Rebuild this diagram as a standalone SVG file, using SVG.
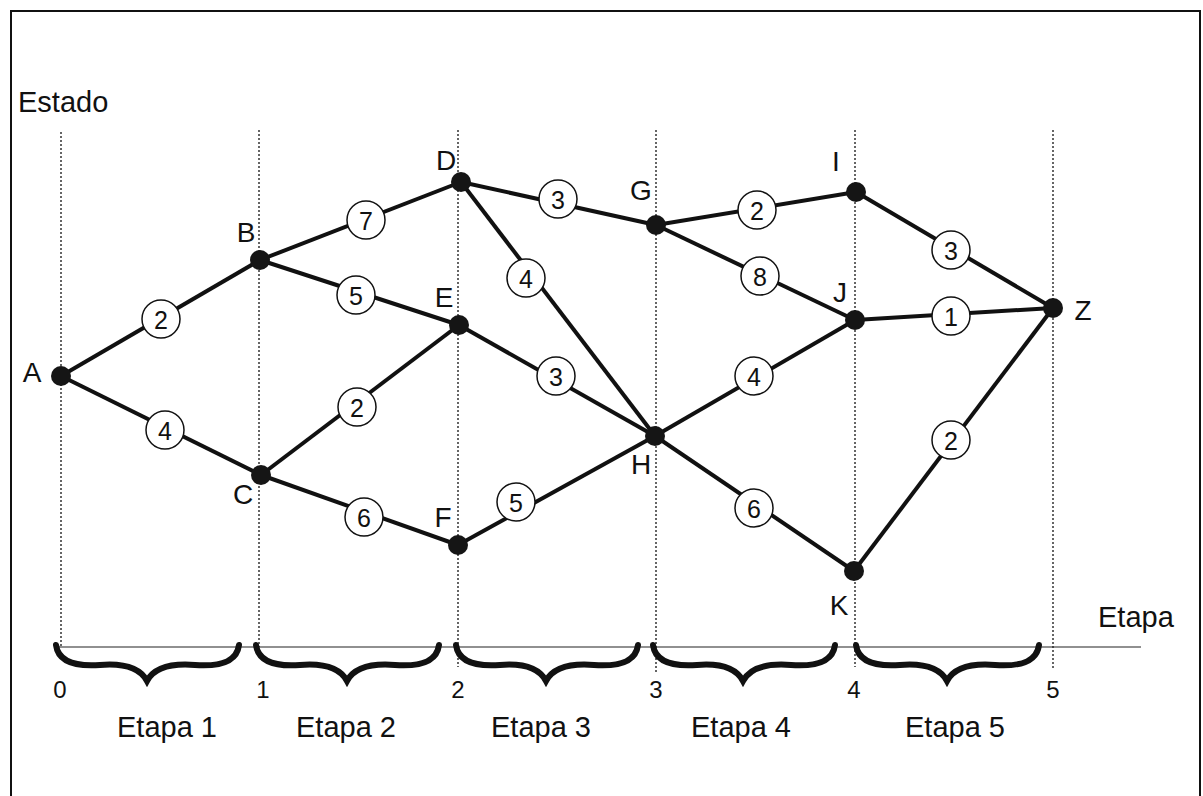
<svg xmlns="http://www.w3.org/2000/svg" width="1203" height="796" viewBox="0 0 1203 796">
<style>
text{font-family:"Liberation Sans",Arial,sans-serif;fill:#111}
.lbl{font-size:29px}
.nl{font-size:28px;text-anchor:middle}
.dg{font-size:24px;text-anchor:middle}
.w{font-size:25px;text-anchor:middle;dominant-baseline:central}
.edge{stroke:#111;stroke-width:4;fill:none}
.grid{stroke:#333;stroke-width:1.5;stroke-dasharray:2 2}
.node{fill:#151515}
.wc{fill:#fff;stroke:#111;stroke-width:1.5}
.brace{fill:none;stroke:#111;stroke-width:6;stroke-linecap:round}
</style>
<rect x="0" y="0" width="1203" height="796" fill="#fff"/>
<path d="M11,800 L11,11 L1200,11 L1200,800" fill="none" stroke="#111" stroke-width="2"/>
<g id="axes">
<line class="grid" x1="61" y1="132" x2="61" y2="647"/>
<line class="grid" x1="259" y1="130" x2="259" y2="647"/>
<line class="grid" x1="458" y1="130" x2="458" y2="667"/>
<line class="grid" x1="656" y1="130" x2="656" y2="672"/>
<line class="grid" x1="855" y1="130" x2="855" y2="667"/>
<line class="grid" x1="1053" y1="130" x2="1053" y2="670"/>
<line x1="55" y1="647" x2="1141" y2="647" stroke="#222" stroke-width="1.2"/>
<text class="lbl" x="18" y="112">Estado</text>
<text class="lbl" x="1098" y="627">Etapa</text>
<text class="dg" x="60" y="698">0</text>
<text class="dg" x="263" y="698">1</text>
<text class="dg" x="458" y="698">2</text>
<text class="dg" x="656" y="698">3</text>
<text class="dg" x="854" y="698">4</text>
<text class="dg" x="1053" y="698">5</text>
<path class="brace" d="M56,645 C58,660 72,667 100,665 C124,663 140,668 147,681 C154,668 170,663 195,665 C224,667 237,660 239,645"/>
<path class="brace" d="M256,645 C258,660 272,667 300,665 C324,663 340,668 347,681 C354,668 370,663 395,665 C424,667 437,660 439,645"/>
<path class="brace" d="M456,645 C458,660 472,667 500,665 C524,663 539,668 546,681 C553,668 569,663 594,665 C623,667 636,660 638,645"/>
<path class="brace" d="M653,645 C655,660 669,667 697,665 C721,663 736,668 743,681 C750,668 766,663 791,665 C820,667 833,660 835,645"/>
<path class="brace" d="M856,645 C858,660 872,667 900,665 C924,663 940,668 947,681 C954,668 970,663 995,665 C1024,667 1037,660 1039,645"/>
<text class="lbl" x="167" y="737" text-anchor="middle">Etapa 1</text>
<text class="lbl" x="346" y="737" text-anchor="middle">Etapa 2</text>
<text class="lbl" x="541" y="737" text-anchor="middle">Etapa 3</text>
<text class="lbl" x="741" y="737" text-anchor="middle">Etapa 4</text>
<text class="lbl" x="955" y="737" text-anchor="middle">Etapa 5</text>
</g>
<g id="connectors">
<line class="edge" x1="61" y1="376" x2="260" y2="260"/>
<line class="edge" x1="61" y1="376" x2="261" y2="475"/>
<line class="edge" x1="260" y1="260" x2="461" y2="182"/>
<line class="edge" x1="260" y1="260" x2="459" y2="325"/>
<line class="edge" x1="261" y1="475" x2="459" y2="325"/>
<line class="edge" x1="261" y1="475" x2="458" y2="545"/>
<line class="edge" x1="461" y1="182" x2="656" y2="225"/>
<line class="edge" x1="461" y1="182" x2="655" y2="436"/>
<line class="edge" x1="459" y1="325" x2="655" y2="436"/>
<line class="edge" x1="458" y1="545" x2="655" y2="436"/>
<line class="edge" x1="656" y1="225" x2="856" y2="192"/>
<line class="edge" x1="656" y1="225" x2="855" y2="320"/>
<line class="edge" x1="655" y1="436" x2="855" y2="320"/>
<line class="edge" x1="655" y1="436" x2="854" y2="571"/>
<line class="edge" x1="856" y1="192" x2="1053" y2="308"/>
<line class="edge" x1="855" y1="320" x2="1053" y2="308"/>
<line class="edge" x1="854" y1="571" x2="1053" y2="308"/>
<g id="weights">
<circle class="wc" cx="161" cy="319" r="19"/><text class="w" x="161" y="320">2</text>
<circle class="wc" cx="165" cy="430" r="19"/><text class="w" x="165" y="431">4</text>
<circle class="wc" cx="366" cy="220" r="19"/><text class="w" x="366" y="221">7</text>
<circle class="wc" cx="356" cy="295" r="19"/><text class="w" x="356" y="296">5</text>
<circle class="wc" cx="357" cy="407" r="19"/><text class="w" x="357" y="408">2</text>
<circle class="wc" cx="364" cy="517" r="19"/><text class="w" x="364" y="518">6</text>
<circle class="wc" cx="558" cy="199" r="19"/><text class="w" x="558" y="200">3</text>
<circle class="wc" cx="526" cy="278" r="19"/><text class="w" x="526" y="279">4</text>
<circle class="wc" cx="556" cy="376" r="19"/><text class="w" x="556" y="377">3</text>
<circle class="wc" cx="516" cy="502" r="19"/><text class="w" x="516" y="503">5</text>
<circle class="wc" cx="757" cy="210" r="19"/><text class="w" x="757" y="211">2</text>
<circle class="wc" cx="760" cy="276" r="19"/><text class="w" x="760" y="277">8</text>
<circle class="wc" cx="754" cy="376" r="19"/><text class="w" x="754" y="377">4</text>
<circle class="wc" cx="754" cy="508" r="19"/><text class="w" x="754" y="509">6</text>
<circle class="wc" cx="951" cy="250" r="19"/><text class="w" x="951" y="251">3</text>
<circle class="wc" cx="951" cy="316" r="19"/><text class="w" x="951" y="317">1</text>
<circle class="wc" cx="951" cy="440" r="19"/><text class="w" x="951" y="441">2</text>
</g>
</g>
<g id="A"><circle class="node" cx="61" cy="376" r="10"/><text class="nl" x="32" y="382">A</text></g>
<g id="B"><circle class="node" cx="260" cy="260" r="10"/><text class="nl" x="246" y="242">B</text></g>
<g id="C"><circle class="node" cx="261" cy="475" r="10"/><text class="nl" x="243" y="504">C</text></g>
<g id="D"><circle class="node" cx="461" cy="182" r="10"/><text class="nl" x="446" y="170">D</text></g>
<g id="E"><circle class="node" cx="459" cy="325" r="10"/><text class="nl" x="444" y="307">E</text></g>
<g id="F"><circle class="node" cx="458" cy="545" r="10"/><text class="nl" x="443" y="527">F</text></g>
<g id="G"><circle class="node" cx="656" cy="225" r="10"/><text class="nl" x="641" y="200">G</text></g>
<g id="H"><circle class="node" cx="655" cy="436" r="10"/><text class="nl" x="641" y="474">H</text></g>
<g id="I"><circle class="node" cx="856" cy="192" r="10"/><text class="nl" x="836" y="171">I</text></g>
<g id="J"><circle class="node" cx="855" cy="320" r="10"/><text class="nl" x="840" y="302">J</text></g>
<g id="K"><circle class="node" cx="854" cy="571" r="10"/><text class="nl" x="839" y="615">K</text></g>
<g id="Z"><circle class="node" cx="1053" cy="308" r="10"/><text class="nl" x="1083" y="320">Z</text></g>
</svg>
